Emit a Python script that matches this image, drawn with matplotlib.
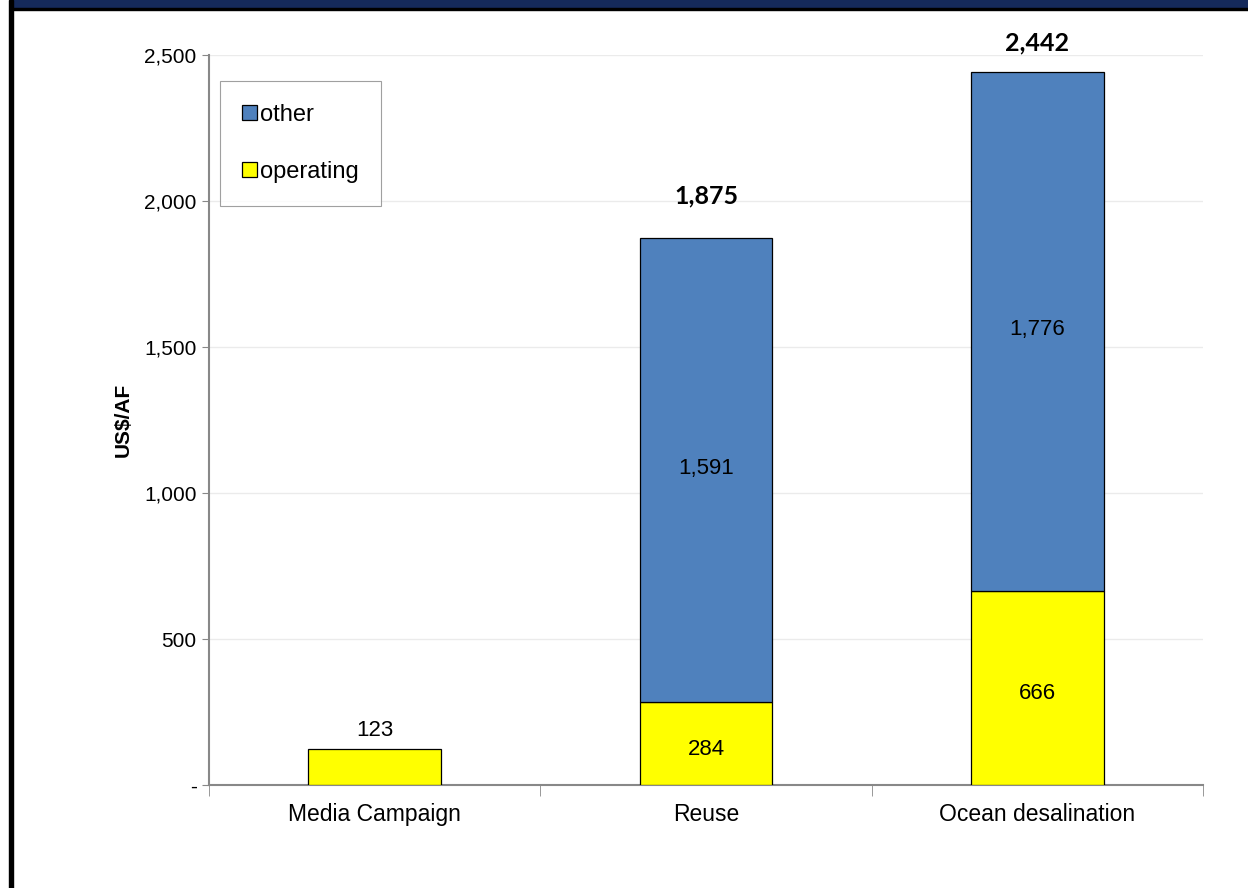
import matplotlib.pyplot as plt
from matplotlib.patches import Rectangle
from matplotlib.ticker import FuncFormatter, FixedLocator

categories = ["Media Campaign", "Reuse", "Ocean desalination"]
operating = [123, 284, 666]
other = [0, 1591, 1776]
totals = [123, 1875, 2442]

plt.rcParams["font.family"] = ["Liberation Sans", "DejaVu Sans"]

fig = plt.figure(figsize=(12.48, 8.88), dpi=100)
ax = fig.add_axes([0.1675, 0.116, 0.7965, 0.822])

# header strip and left frame line
fig.patches.append(Rectangle((13 / 1248, 1 - 8 / 888), 1 - 13 / 1248, 8 / 888,
                             transform=fig.transFigure, color="#152a5b", zorder=0))
fig.patches.append(Rectangle((13 / 1248, 1 - 10.5 / 888), 1 - 13 / 1248, 2.5 / 888,
                             transform=fig.transFigure, color="black", zorder=0))
fig.patches.append(Rectangle((9 / 1248, 0), 4 / 1248, 1,
                             transform=fig.transFigure, color="black", zorder=0))

x = list(range(len(categories)))
w = 0.4
ax.bar(x, operating, w, color="#ffff00", edgecolor="black", linewidth=0.9,
       label="operating", zorder=3)
ax.bar(x[1:], other[1:], w, bottom=operating[1:], color="#4f81bd",
       edgecolor="black", linewidth=0.9, label="other", zorder=3)

# total labels sit above the stacks
total_gap = [65, 142, 100]
for i in x:
    if other[i] > 0:
        ax.text(i, operating[i] / 2 - 20, f"{operating[i]:,}", ha="center",
                va="center", fontsize=16)
        ax.text(i, operating[i] + other[i] / 2 + 5, f"{other[i]:,}", ha="center",
                va="center", fontsize=16)
        ax.text(i, totals[i] + total_gap[i], f"{totals[i]:,}", ha="center",
                va="center", fontsize=18, fontweight="bold",
                family=["Lato", "DejaVu Sans"], clip_on=False)
    else:
        ax.text(i, totals[i] + total_gap[i], f"{totals[i]:,}", ha="center",
                va="center", fontsize=16)

ax.set_xlim(-0.5, 2.5)
ax.set_ylim(0, 2500)
ax.set_yticks(range(0, 2501, 500))
ax.yaxis.set_major_formatter(FuncFormatter(lambda v, p: "-" if v == 0 else f"{int(v):,}"))
ax.set_xticks(x)
ax.set_xticklabels(categories)
ax.xaxis.set_minor_locator(FixedLocator([-0.5, 0.5, 1.5, 2.5]))
ax.tick_params(axis="x", which="major", length=0, pad=13, labelsize=16.5)
ax.tick_params(axis="x", which="minor", length=8, color="#888888")
ax.tick_params(axis="y", length=5, color="#888888", labelsize=15, pad=4)
ax.set_ylabel("US$/AF", fontsize=15, fontweight="bold", labelpad=8)

ax.grid(axis="y", color="#ebebeb", linewidth=1, zorder=0)
for s in ["top", "right"]:
    ax.spines[s].set_visible(False)
for s in ["left", "bottom"]:
    ax.spines[s].set_color("#888888")
    ax.spines[s].set_linewidth(1.5)

handles, labels = ax.get_legend_handles_labels()
leg = ax.legend(handles[::-1], labels[::-1], loc="upper left",
                bbox_to_anchor=(0.011, 0.964), fontsize=17, frameon=True,
                fancybox=False, edgecolor="#888888", handlelength=0.6,
                handleheight=0.6, handletextpad=0.15, labelspacing=1.5,
                borderpad=0.95, borderaxespad=0)
leg.get_frame().set_linewidth(0.8)
leg.set_zorder(5)

fig.savefig("out.png", dpi=100)
